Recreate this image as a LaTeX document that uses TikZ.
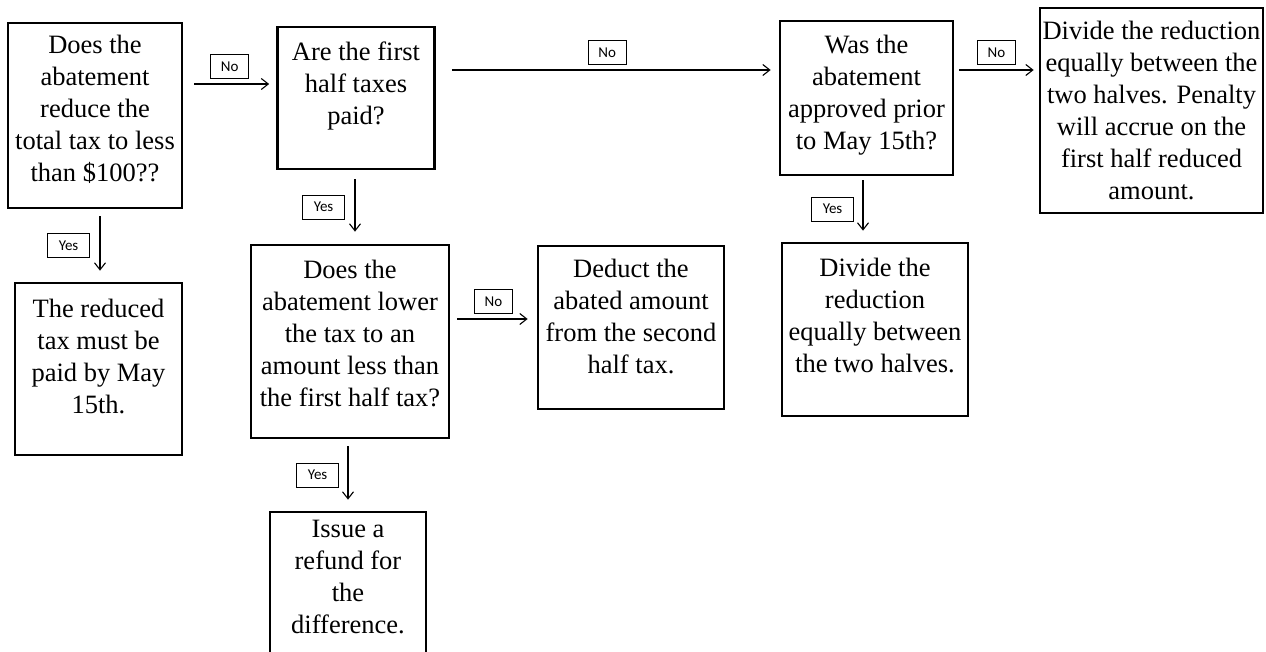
\documentclass[tikz,border=0pt]{standalone}
\usepackage{fontspec}
\setmainfont{Liberation Serif}
\newfontfamily\tagfont{Carlito}
\usetikzlibrary{arrows.meta}
\newcommand\txtup[1]{\rule[-#1]{0pt}{0pt}}

\begin{document}
\begin{tikzpicture}[x=1pt, y=-1pt,
    box/.style={draw, line width=2.7pt, align=center, inner sep=0pt,
                font=\fontsize{26.5}{32}\selectfont},
    tag/.style={draw, line width=0.9pt, inner sep=0pt, minimum height=24pt,
                font=\tagfont\fontsize{15}{18}\selectfont},
    flow/.style={-{Straight Barb[length=7pt,width=11pt]}, line width=1.1pt,
                 shorten <=8pt, shorten >=8pt}]
  \useasboundingbox (0,0) rectangle (1266,652);

  \node[box, minimum width=174pt, minimum height=185pt] (q1) at (95,115.5)
    {Does the\\abatement\\reduce the\\total tax to less\\than \$100??\txtup{14pt}};
  \node[box, minimum width=157pt, minimum height=142pt] (q2) at (356,98)
    {Are the first\\half taxes\\paid?\txtup{30pt}};
  \node[box, minimum width=173pt, minimum height=154pt] (q3) at (866.5,98)
    {Was the\\abatement\\approved prior\\to May 15th?\txtup{12pt}};
  \node[box, minimum width=223pt, minimum height=205pt] (r1) at (1151.5,110.5)
    {Divide the reduction\\equally between the\\two halves. Penalty\\will accrue on the\\first half reduced\\amount.};
  \node[box, minimum width=167pt, minimum height=172pt] (r2) at (98.5,369)
    {The reduced\\tax must be\\paid by May\\15th.\txtup{26pt}};
  \node[box, minimum width=198pt, minimum height=193pt] (q4) at (350,341.5)
    {Does the\\abatement lower\\the tax to an\\amount less than\\the first half tax?\txtup{16pt}};
  \node[box, minimum width=186pt, minimum height=163pt] (r3) at (631,327.5)
    {Deduct the\\abated amount\\from the second\\half tax.\txtup{22pt}};
  \node[box, minimum width=186pt, minimum height=173pt] (r4) at (875,329.5)
    {Divide the\\reduction\\equally between\\the two halves.\txtup{28pt}};
  \node[box, minimum width=156pt, minimum height=150pt] (r5) at (348,587)
    {Issue a\\refund for\\the\\difference.\txtup{20pt}};

  \draw[flow, shorten <=11pt, shorten >=7pt] ([yshift=31.5pt]q1.east) -- ([yshift=31.5pt]q1.east -| q2.west)
    node[tag, midway, above=5pt, minimum width=38pt] {No};
  \draw[flow, shorten <=16pt] ([yshift=28pt]q2.east) -- ([yshift=28pt]q2.east -| q3.west)
    node[tag, midway, above=5pt, minimum width=38pt] {No};
  \draw[flow, shorten <=5pt, shorten >=5pt] ([yshift=28pt]q3.east) -- ([yshift=28pt]q3.east -| r1.west)
    node[tag, midway, above=5pt, minimum width=38pt] {No};
  \draw[flow, shorten <=7pt, shorten >=9pt] ([yshift=22.5pt]q4.east) -- ([yshift=22.5pt]q4.east -| r3.west)
    node[tag, midway, above=5pt, minimum width=38pt] {No};

  \draw[flow, shorten <=7pt, shorten >=11pt] ([xshift=5pt]q1.south) -- ([xshift=5pt]q1.south |- r2.north)
    node[tag, midway, left=10pt, minimum width=42pt] {Yes};
  \draw[flow, shorten <=9pt, shorten >=12pt] ([xshift=-1pt]q2.south) -- ([xshift=-1pt]q2.south |- q4.north)
    node[tag, midway, left=10pt, minimum width=42pt] {Yes};
  \draw[flow, shorten <=4pt, shorten >=11pt] ([xshift=-3.5pt]q3.south) -- ([xshift=-3.5pt]q3.south |- r4.north)
    node[tag, midway, left=9pt, minimum width=42pt] {Yes};
  \draw[flow, shorten <=7pt, shorten >=11pt] ([xshift=-2pt]q4.south) -- ([xshift=-2pt]q4.south |- r5.north)
    node[tag, midway, left=9pt, minimum width=42pt] {Yes};
\end{tikzpicture}
\end{document}
